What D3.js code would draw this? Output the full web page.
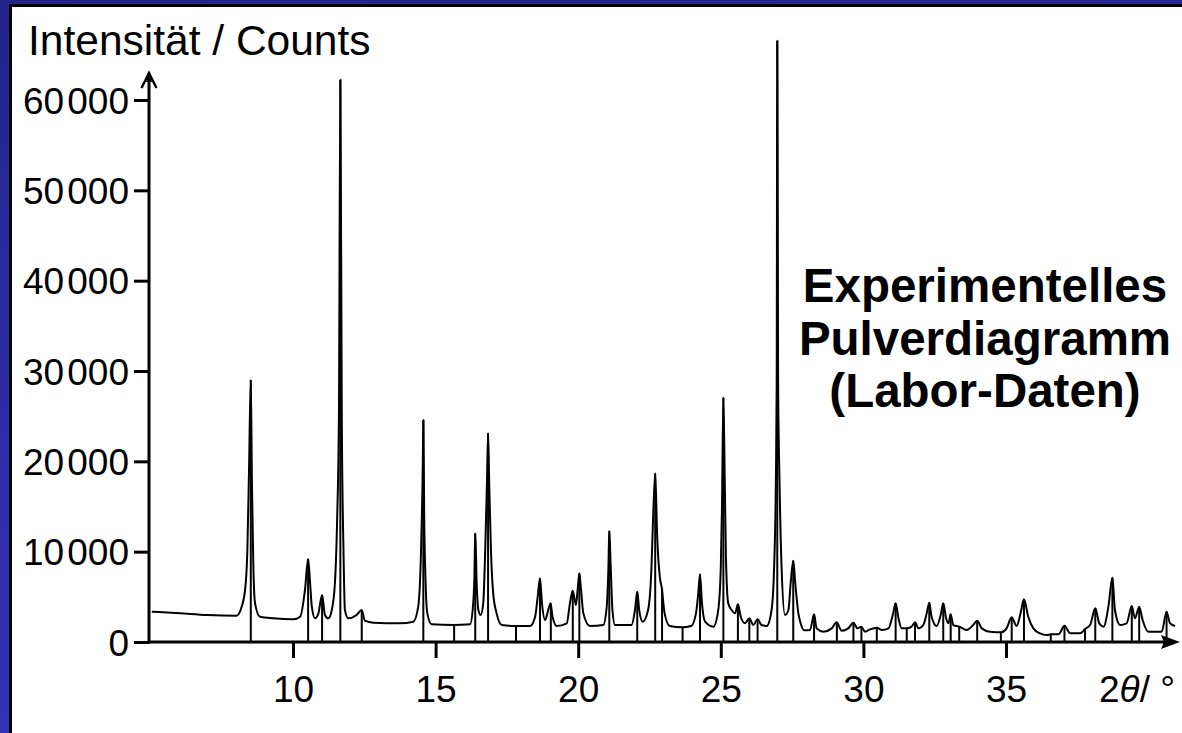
<!DOCTYPE html>
<html>
<head>
<meta charset="utf-8">
<script src="https://cdn.jsdelivr.net/npm/d3@7"></script>
<style>
  html, body { margin: 0; padding: 0; background: #fff; }
  svg { display: block; }
  text { font-family: "Liberation Sans", Arial, Helvetica, sans-serif; fill: #000; }
</style>
</head>
<body>
<svg id="chart" width="1182" height="733"></svg>
<script>
// ---------------- DATA ----------------
// measured powder pattern: 2θ positions (°) and intensities (counts)
const twoTheta = [
  5.05, 6.04, 7.0, 8.02, 8.20, 8.32, 8.40, 8.46, 8.52, 8.56, 8.61, 8.67, 8.84, 9.31, 10.01,
  10.25, 10.42, 10.53, 10.60, 10.66, 10.77, 10.89, 11.02, 11.12, 11.24, 11.36, 11.47, 11.55, 11.61,
  11.66, 11.71, 11.77, 11.82, 11.94, 12.23, 12.41, 12.52, 12.82, 13.75, 14.22, 14.39, 14.49, 14.55,
  14.57, 14.60, 14.65, 14.71, 14.86, 15.62, 16.21, 16.30, 16.36, 16.39, 16.44, 16.50, 16.58, 16.67,
  16.74, 16.80, 16.84, 16.88, 16.94, 17.02, 17.14, 17.32, 17.81, 18.31, 18.49, 18.58, 18.66, 18.73,
  18.84, 18.95, 19.03, 19.10, 19.25, 19.60, 19.71, 19.81, 19.92, 19.98, 20.04, 20.10, 20.18, 20.41,
  20.88, 21.00, 21.06, 21.09, 21.14, 21.20, 21.29, 21.87, 21.99, 22.07, 22.14, 22.26, 22.45, 22.57,
  22.62, 22.70, 22.77, 22.86, 22.93, 23.03, 23.21, 23.65, 23.96, 24.13, 24.21, 24.27, 24.34, 24.45,
  24.74, 24.91, 25.00, 25.04, 25.09, 25.14, 25.18, 25.26, 25.38, 25.50, 25.60, 25.70, 25.85, 26.00,
  26.14, 26.29, 26.43, 26.61, 26.78, 26.87, 26.93, 26.96, 26.98, 27.01, 27.06, 27.13, 27.25, 27.37,
  27.45, 27.54, 27.61, 27.72, 27.80, 27.92, 28.13, 28.27, 28.36, 28.60, 28.89, 29.06, 29.24, 29.47,
  29.65, 29.79, 29.92, 30.06, 30.23, 30.47, 30.64, 30.88, 31.03, 31.13, 31.23, 31.34, 31.52, 31.69,
  31.81, 31.93, 32.10, 32.22, 32.31, 32.39, 32.57, 32.71, 32.80, 32.90, 32.98, 33.06, 33.15, 33.36,
  33.62, 33.85, 33.99, 34.15, 34.44, 34.83, 35.02, 35.20, 35.37, 35.51, 35.63, 35.78, 35.96, 36.19,
  36.43, 36.57, 36.84, 37.05, 37.25, 37.60, 37.77, 37.95, 38.13, 38.27, 38.42, 38.59, 38.73, 38.82,
  39.00, 39.23, 39.41, 39.52, 39.67, 39.79, 39.99, 40.46, 40.63, 40.75, 40.93
];
const counts = [
  3360, 3180, 2990, 2915, 3910, 5760, 10190, 19420, 29010, 17570, 8340, 4280, 2800, 2620, 2510,
  2800, 5760, 9190, 6500, 3910, 2620, 3170, 5200, 2990, 2620, 3540, 6530, 13880, 24950,
  62240, 24950, 10190, 3540, 2620, 2990, 3540, 2360, 2140, 2070, 2250, 3910, 10190, 19420,
  24580, 13880, 6530, 3170, 1960, 1880, 1960, 3540, 7230, 12030, 6530, 3540, 2990, 4280,
  10190, 17570, 23110, 17570, 10190, 5390, 3170, 1880, 1770, 1770, 2800, 5020, 7050, 4280,
  2440, 3540, 4280, 2800, 1770, 2070, 4280, 5680, 4100, 5760, 7600, 5760, 3170, 1770,
  1880, 3910, 8340, 12290, 8340, 3540, 1880, 1880, 3540, 5570, 3540, 2250, 3540, 8340,
  13140, 18680, 11650, 7230, 5980, 3170, 1770, 1620, 1770, 3170, 5390, 7490, 4280, 2250,
  1700, 3540, 8340, 14620, 27060, 17570, 9450, 4280, 3540, 3170, 4170, 2800, 2070, 2620,
  1880, 2510, 1880, 1770, 3540, 8340, 17570, 28650, 66560, 28650, 17570, 8340, 2990, 3540,
  6530, 9000, 6530, 3170, 2070, 1300, 1330, 3060, 1510, 1140, 1510, 2180, 1250, 1510,
  2140, 1510, 1700, 1140, 1400, 1590, 1330, 1510, 2990, 4280, 2620, 1510, 1510, 1700,
  2180, 1510, 1880, 3170, 4350, 2800, 1770, 2990, 4280, 2620, 2070, 3060, 1880, 1700,
  1330, 1880, 2360, 1510, 1140, 1070, 1510, 2730, 1770, 3170, 4730, 2800, 1510, 960,
  775, 850, 850, 1810, 960, 960, 1440, 1880, 3730, 2070, 1700, 3910, 7120, 3540,
  1880, 2070, 3990, 2620, 3910, 2440, 1140, 1140, 3360, 2070, 1770
];
// reflection markers (vertical sticks): position (°) and height (counts)
const stickPos = [
  8.52, 10.53, 11.02, 11.66, 12.41, 14.57, 15.65, 16.39, 16.84, 17.82, 18.66, 19.04, 19.81, 20.04,
  21.09, 22.07, 22.70, 22.94, 23.66, 24.27, 25.09, 25.60, 26.00, 26.29, 26.98, 27.54, 28.27, 29.07,
  29.65, 29.93, 30.47, 31.13, 31.52, 31.81, 32.31, 32.80, 33.06, 33.36, 33.99, 34.82, 35.20, 35.63,
  36.57, 37.05, 37.77, 38.13, 38.73, 39.41, 39.67, 40.63
];
const stickTop = [
  29010, 9190, 5200, 62240, 3540, 24580, 1900, 12030, 23110, 1770, 7050, 4280, 5680, 7600,
  12290, 5570, 18680, 5980, 1650, 7490, 27060, 4170, 2620, 2510, 66560, 9000, 3060, 2180,
  2140, 1700, 1590, 4280, 1510, 2180, 4350, 4280, 3060, 1700, 2360, 1070, 2730, 4730,
  850, 1810, 1440, 3730, 7120, 3990, 3910, 3360
];
const xTicks = [10, 15, 20, 25, 30, 35];
const xTickLabels = ["10", "15", "20", "25", "30", "35"];
const yTicks = [0, 10000, 20000, 30000, 40000, 50000, 60000];
const yTickLabels = ["0", "10\u200A000", "20\u200A000", "30\u200A000", "40\u200A000", "50\u200A000", "60\u200A000"];
const yTitle = "Intensität / Counts";
const annotation = ["Experimentelles", "Pulverdiagramm", "(Labor-Daten)"];

// ---------------- LAYOUT ----------------
const W = 1182, H = 733;
const svg = d3.select("#chart");

const defs = svg.append("defs");
const grad = defs.append("linearGradient").attr("id", "frameGrad")
  .attr("x1", "0").attr("y1", "0").attr("x2", "0.3").attr("y2", "1");
grad.append("stop").attr("offset", "0%").attr("stop-color", "#23238a");
grad.append("stop").attr("offset", "100%").attr("stop-color", "#3434bc");

svg.append("rect").attr("width", W).attr("height", H).attr("fill", "url(#frameGrad)");
svg.append("rect").attr("x", 9).attr("y", 4).attr("width", W).attr("height", H).attr("fill", "#000");
svg.append("rect").attr("x", 12).attr("y", 7).attr("width", W).attr("height", H).attr("fill", "#fff");

// scales
const x = d3.scaleLinear().domain([10, 35]).range([293, 1006]);
const y = d3.scaleLinear().domain([0, 60000]).range([642, 100]);
const x0 = 149, y0 = y(0);

// sticks
svg.append("g").selectAll("line").data(stickPos).join("line")
  .attr("x1", d => x(d)).attr("x2", d => x(d))
  .attr("y1", y0).attr("y2", (d, i) => y(stickTop[i]))
  .attr("stroke", "#000").attr("stroke-width", 2);

// profile line
const pts = twoTheta.map((t, i) => [t, counts[i]]);
const line = d3.line().x(d => x(d[0])).y(d => y(d[1])).curve(d3.curveMonotoneX);
svg.append("path").datum(pts).attr("d", line)
  .attr("fill", "none").attr("stroke", "#000").attr("stroke-width", 2)
  .attr("stroke-linejoin", "round");

// x axis
const xAxis = d3.axisBottom(x).tickValues(xTicks).tickSize(16).tickPadding(18)
  .tickFormat((d, i) => xTickLabels[i]);
const gx = svg.append("g").attr("transform", `translate(0,${y0})`).call(xAxis);
gx.select(".domain").remove();
gx.selectAll(".tick line").attr("stroke", "#000").attr("stroke-width", 3);
gx.selectAll(".tick text").attr("font-size", 37).attr("font-family", null).attr("fill", "#000");

// y axis
const yAxis = d3.axisLeft(y).tickValues(yTicks).tickSize(15).tickPadding(5)
  .tickFormat((d, i) => yTickLabels[i]);
const gy = svg.append("g").attr("transform", `translate(${x0},0)`).call(yAxis);
gy.select(".domain").remove();
gy.selectAll(".tick line").attr("stroke", "#000").attr("stroke-width", 3);
gy.selectAll(".tick text").attr("font-size", 37).attr("font-family", null).attr("fill", "#000")
  .attr("dy", "0.36em");

// axis lines with arrows
svg.append("line").attr("x1", x0).attr("x2", 1164).attr("y1", y0).attr("y2", y0)
  .attr("stroke", "#000").attr("stroke-width", 3);
svg.append("path").attr("d", `M1180,${y0} L1161,${y0 - 7} L1164,${y0} L1161,${y0 + 7} Z`).attr("fill", "#000");
svg.append("line").attr("x1", x0).attr("x2", x0).attr("y1", y0 + 1.5).attr("y2", 76)
  .attr("stroke", "#000").attr("stroke-width", 3);
svg.append("path").attr("d", `M${x0 - 7.5},88 L${x0},73 L${x0 + 7.5},88`)
  .attr("fill", "none").attr("stroke", "#000").attr("stroke-width", 2.4);
svg.append("path").attr("d", `M${x0 - 3},82 L${x0},73 L${x0 + 3},82 Z`).attr("fill", "#000");

// titles
svg.append("text").attr("x", 28).attr("y", 55).attr("font-size", 42.5).text(yTitle);

const xl = svg.append("text").attr("x", 1099).attr("y", 702).attr("font-size", 37);
xl.append("tspan").text("2");
xl.append("tspan").attr("font-style", "italic").text("θ");
xl.append("tspan").text("/ °");

const ann = svg.append("text").attr("text-anchor", "middle").attr("font-size", 47.5).attr("font-weight", "bold");
annotation.forEach((s, i) => {
  ann.append("tspan").attr("x", 985).attr("y", 302 + i * 52.5).text(s);
});
</script>
</body>
</html>
